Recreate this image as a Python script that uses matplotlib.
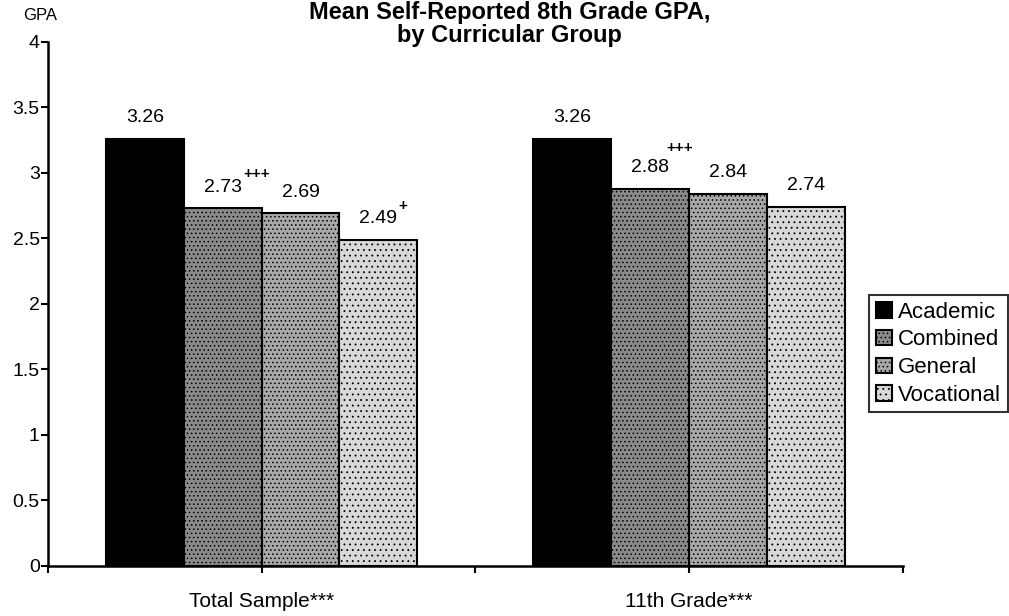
import numpy as np
import matplotlib
matplotlib.use("Agg")
import matplotlib.pyplot as plt

plt.rcParams["font.family"] = ["Liberation Sans", "DejaVu Sans"]
plt.rcParams["hatch.linewidth"] = 0.6

groups = ["Total Sample***", "11th Grade***"]
series = ["Academic", "Combined", "General", "Vocational"]
values = {
    "Academic": [3.26, 3.26],
    "Combined": [2.73, 2.88],
    "General": [2.69, 2.84],
    "Vocational": [2.49, 2.74],
}
marks = {
    "Academic": ["", ""],
    "Combined": ["+++", "+++"],
    "General": ["", ""],
    "Vocational": ["+", ""],
}
yticks = [0, 0.5, 1, 1.5, 2, 2.5, 3, 3.5, 4]

colors = ["black", "#8a8a8a", "#a8a8a8", "#d8d8d8"]
hatches = [None, "....", "....", "..."]

fig = plt.figure(figsize=(10.09, 6.16), dpi=100)
ax = fig.add_axes([0.0476, 0.0812, 0.847, 0.851])

x = np.arange(len(groups))
w = 0.182
for i, s in enumerate(series):
    pos = x + (i - 1.5) * w
    ax.bar(pos, values[s], w, color=colors[i], edgecolor="black",
           linewidth=1.5, hatch=hatches[i], label=s)
    for j, v in enumerate(values[s]):
        ax.annotate(f"{v:.2f}", (pos[j], v), xytext=(0, 9),
                    textcoords="offset points", ha="center", va="bottom",
                    fontsize=14)
        if marks[s][j]:
            # superscript marks next to the number
            up = 29 if j == 1 else 24.5
            dx = 12 if j == 1 else 14.5
            ax.annotate(marks[s][j], (pos[j], v), xytext=(dx, up),
                        textcoords="offset points", ha="left", va="center",
                        fontsize=11, fontweight="bold")

ax.set_ylim(0, 4)
ax.set_xlim(-0.5, 1.5)
ax.set_yticks(yticks)
ax.set_yticklabels(["0", "0.5", "1", "1.5", "2", "2.5", "3", "3.5", "4"],
                   fontsize=14)
ax.set_xticks([-0.5, 0, 0.5, 1, 1.5])
ax.set_xticklabels(["", groups[0], "", groups[1], ""], fontsize=15)
ax.tick_params(axis="both", direction="out", length=5, width=1.5)
ax.tick_params(axis="x", pad=14)
ax.tick_params(axis="y", pad=1)
for side in ["top", "right"]:
    ax.spines[side].set_visible(False)
for side in ["left", "bottom"]:
    ax.spines[side].set_linewidth(1.8)

fig.text(0.023, 0.975, "GPA", fontsize=12, ha="left", va="center")
fig.text(0.505, 0.999, "Mean Self-Reported 8th Grade GPA,\nby Curricular Group",
         fontsize=17, fontweight="bold", ha="center", va="top",
         linespacing=1.0)

leg = fig.legend(loc="upper right", bbox_to_anchor=(0.999, 0.521),
                 fontsize=16, frameon=True, fancybox=False, edgecolor="black",
                 handlelength=0.7, handleheight=0.7, handletextpad=0.3,
                 borderpad=0.3, labelspacing=0.3, borderaxespad=0)
leg.get_frame().set_linewidth(1.5)

fig.savefig("out.png", dpi=100)
